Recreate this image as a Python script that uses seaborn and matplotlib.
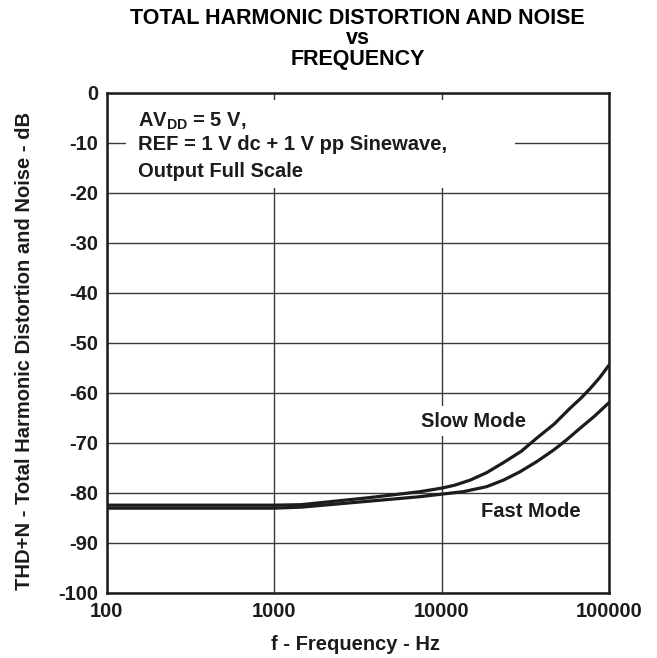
import numpy as np
import pandas as pd
import matplotlib
matplotlib.use('Agg')
import matplotlib.pyplot as plt
from matplotlib.patches import Rectangle
import seaborn as sns

## 곡선 값
slow_freq = [100, 1000, 1450, 3700, 7450, 10000, 12000, 14800, 18600, 23400,
             30000, 37000, 47000, 58600, 68000, 77100, 88000, 100000]
slow_db = [-82.5, -82.5, -82.4, -81.0, -79.8, -79.1, -78.5, -77.5, -76.0, -74.0,
           -71.7, -69.1, -66.3, -63.1, -61.1, -59.2, -57.0, -54.5]

fast_freq = [100, 1000, 1450, 3700, 7450, 10000, 13500, 18600, 23400, 29500,
             37000, 46600, 56000, 67300, 82000, 100000]
fast_db = [-83.1, -83.1, -82.9, -81.7, -80.8, -80.3, -79.8, -78.8, -77.5, -75.8,
           -73.8, -71.5, -69.4, -67.1, -64.7, -62.0]

x_ticks = [100, 1000, 10000, 100000]
y_ticks = [0, -10, -20, -30, -40, -50, -60, -70, -80, -90, -100]

title_lines = ['TOTAL HARMONIC DISTORTION AND NOISE', 'vs', 'FREQUENCY']
note_lines = [r'AV$_{\mathrm{DD}}$ = 5 V,', 'REF = 1 V dc + 1 V pp Sinewave,', 'Output Full Scale']

df = pd.concat([
    pd.DataFrame({'f': slow_freq, 'thd': slow_db, 'mode': 'Slow Mode'}),
    pd.DataFrame({'f': fast_freq, 'thd': fast_db, 'mode': 'Fast Mode'}),
])

#%%
sns.set_style('white')
plt.rcParams['font.family'] = ['Liberation Sans', 'DejaVu Sans']
plt.rcParams['font.weight'] = 'bold'
plt.rcParams['mathtext.fontset'] = 'custom'
plt.rcParams['mathtext.rm'] = 'Liberation Sans:bold'
plt.rcParams['mathtext.bf'] = 'Liberation Sans:bold'

ink = '#1c1c1c'
fs = 14.5

fig = plt.figure(figsize=(6.57, 6.58), dpi=100)
ax = fig.add_axes([0.1624, 0.0993, 0.7645, 0.7599])

sns.lineplot(data=df, x='f', y='thd', hue='mode', units='mode', estimator=None,
             palette={'Slow Mode': ink, 'Fast Mode': ink}, linewidth=2.3,
             legend=False, ax=ax, zorder=3, solid_joinstyle='round')

ax.set_xscale('log')
ax.set_xlim(100, 100000)
ax.set_ylim(-100, 0)
ax.set_xticks(x_ticks)
ax.set_xticklabels([str(v) for v in x_ticks])
ax.xaxis.set_minor_locator(matplotlib.ticker.NullLocator())
ax.set_yticks(y_ticks)
ax.set_yticklabels([str(v) for v in y_ticks])
ax.tick_params(axis='both', length=0, labelsize=fs, colors=ink)
ax.tick_params(axis='x', pad=7)
ax.tick_params(axis='y', pad=6)

ax.set_axisbelow(True)
ax.grid(True, which='major', color='#3a3a3a', linewidth=1.0)
for sp in ax.spines.values():
    sp.set_color(ink)
    sp.set_linewidth(1.8)

# 주석 영역 흰 박스 (격자 가림)
ax.add_patch(Rectangle((0.038, 0.809), 0.775, 0.176, transform=ax.transAxes,
                       facecolor='white', edgecolor='none', zorder=1.5))

for txt, yy in zip(note_lines, [0.932, 0.8854, 0.832]):
    ax.text(0.0633, yy, txt, transform=ax.transAxes, fontsize=fs,
            fontweight='bold', color=ink, ha='left', va='baseline', zorder=4)

ax.text(15600, -65.7, 'Slow Mode', fontsize=fs, fontweight='bold', color=ink,
        ha='center', va='center', zorder=4,
        bbox=dict(facecolor='white', edgecolor='none', pad=4))
ax.text(34300, -83.8, 'Fast Mode', fontsize=fs, fontweight='bold', color=ink,
        ha='center', va='center', zorder=4)

ax.set_xlabel('f - Frequency - Hz', fontsize=fs, fontweight='bold', color=ink, va='center')
ax.xaxis.set_label_coords(0.496, -0.1046)
ax.set_ylabel('THD+N - Total Harmonic Distortion and Noise - dB', fontsize=fs,
              fontweight='bold', color=ink, va='center')
ax.yaxis.set_label_coords(-0.1646, 0.4834)

for txt, yy in zip(title_lines, [18, 39, 60]):
    fig.text(357.8 / 657, 1 - yy / 658, txt, fontsize=15.5, fontweight='bold',
             color='black', ha='center', va='center')

fig.savefig('out.png', dpi=100)
